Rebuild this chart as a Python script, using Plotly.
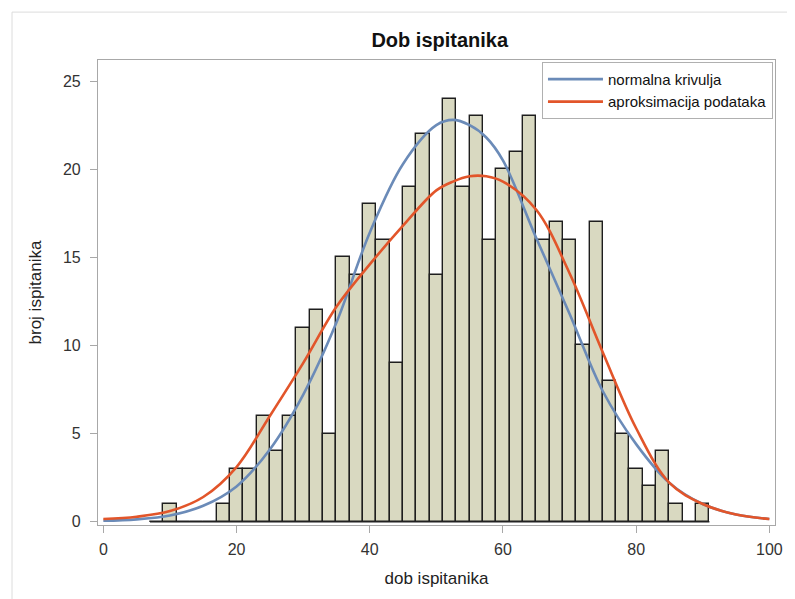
import plotly.graph_objects as go

# histogram: bin centres (bin width 2) and counts
bin_centers = [8, 10, 12, 14, 16, 18, 20, 22, 24, 26, 28, 30, 32, 34, 36, 38, 40,
               42, 44, 46, 48, 50, 52, 54, 56, 58, 60, 62, 64, 66, 68, 70, 72, 74,
               76, 78, 80, 82, 84, 86, 88, 90]
counts = [0, 1, 0, 0, 0, 1, 3, 3, 6, 4, 6, 11, 12, 5, 15, 14, 18,
          16, 9, 19, 22, 14, 24, 19, 23, 16, 20, 21, 23, 16, 17, 16, 10, 17,
          8, 5, 3, 2, 4, 1, 0, 1]
bin_width = 2

# curves
curve_x = [0, 5, 10, 15, 20, 25, 30, 35, 40, 45, 50, 52.5, 55, 57.5, 60, 65,
           70, 75, 80, 85, 90, 95, 100]
normal_y = [0.05, 0.13, 0.35, 0.9, 2.0, 4.1, 7.2, 11.3, 16.4, 20.3, 22.5, 22.8,
            22.5, 21.8, 20.5, 16.1, 11.8, 7.4, 4.4, 2.2, 1.0, 0.4, 0.15]
approx_y = [0.15, 0.28, 0.6, 1.4, 3.1, 6.0, 9.0, 12.2, 14.6, 16.8, 18.8, 19.3,
            19.6, 19.6, 19.3, 17.7, 14.1, 9.6, 5.3, 2.2, 1.0, 0.4, 0.15]

font = "Liberation Sans, Arial, sans-serif"

fig = go.Figure()

# dark baseline under the histogram range (zero-count bins)
fig.add_trace(go.Scatter(x=[bin_centers[0] - bin_width / 2, bin_centers[-1] + bin_width / 2],
                         y=[0, 0], mode="lines",
                         line=dict(color="#222222", width=1.5),
                         showlegend=False, hoverinfo="skip"))

fig.add_trace(go.Bar(x=bin_centers, y=counts, width=bin_width,
                     marker=dict(color="#D9D9C1", line=dict(color="#1e1e1e", width=1.4)),
                     showlegend=False))

fig.add_trace(go.Scatter(x=curve_x, y=normal_y, mode="lines", line_shape="spline",
                         name="normalna krivulja",
                         line=dict(color="#6B8BB8", width=2.6)))
fig.add_trace(go.Scatter(x=curve_x, y=approx_y, mode="lines", line_shape="spline",
                         name="aproksimacija podataka",
                         line=dict(color="#E2552A", width=2.6)))

axis_common = dict(showline=True, linecolor="#a8a8a8", linewidth=1.2, mirror=True,
                   ticks="outside", ticklen=7, tickcolor="#a8a8a8",
                   showgrid=False, zeroline=False,
                   tickfont=dict(family=font, size=16, color="#333333"),
                   title_font=dict(family=font, size=17, color="#222222"))

fig.update_xaxes(range=[-0.8, 100.85], tickvals=[0, 20, 40, 60, 80, 100],
                 ticklabelstandoff=3,
                 title_text="dob ispitanika", title_standoff=14, **axis_common)
fig.update_yaxes(range=[-0.19, 26.2], tickvals=[0, 5, 10, 15, 20, 25],
                 ticklabelstandoff=6,
                 title_text="broj ispitanika", title_standoff=16, **axis_common)

# the page adds an 8px body margin, so the figure is a little smaller
fig.update_layout(
    width=787, height=591,
    margin=dict(l=90, r=13, t=52, b=74),
    plot_bgcolor="white", paper_bgcolor="white",
    bargap=0,
    title=dict(text="<b>Dob ispitanika</b>", x=0.5486, xanchor="center",
               y=0.946, yanchor="middle",
               font=dict(family=font, size=20, color="#111111")),
    legend=dict(x=0.997, y=0.996, xanchor="right", yanchor="top",
                bgcolor="white", bordercolor="#b0b0b0", borderwidth=1,
                font=dict(family=font, size=15, color="#111111"),
                itemwidth=55, tracegroupgap=0),
    shapes=[
        dict(type="line", xref="paper", yref="paper", x0=-0.127, x1=-0.127,
             y0=-0.2, y1=1.103, line=dict(color="#dcdcdc", width=1)),
        dict(type="line", xref="paper", yref="paper", x0=-0.127, x1=1.03,
             y0=1.103, y1=1.103, line=dict(color="#dcdcdc", width=1)),
    ],
)

fig.write_html("out.html")
